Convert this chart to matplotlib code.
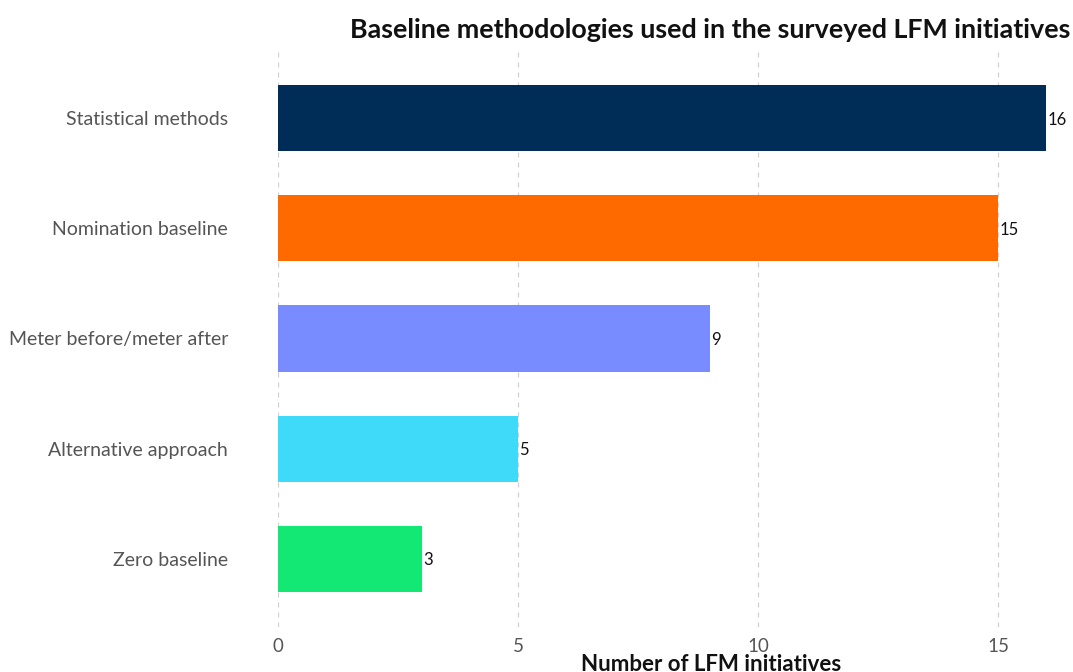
import matplotlib
matplotlib.use("Agg")
import matplotlib.pyplot as plt

# Baseline methodologies and how many LFM initiatives use each
methods = [
    "Statistical methods",
    "Nomination baseline",
    "Meter before/meter after",
    "Alternative approach",
    "Zero baseline",
]
counts = [16, 15, 9, 5, 3]
bar_colors = ["#002D57", "#FF6A00", "#788CFF", "#3FDAF9", "#14E874"]
x_ticks = [0, 5, 10, 15]

plt.rcParams["font.family"] = ["Lato", "DejaVu Sans"]

fig = plt.figure(figsize=(10.73, 6.72), dpi=100)
ax = fig.add_axes([278 / 1073, 45 / 672, 792 / 1073, 577 / 672])

ypos = list(range(len(methods)))
ax.barh(ypos, counts, height=0.6, color=bar_colors, zorder=3)

for y, v in zip(ypos, counts):
    ax.text(v + 0.03, y, f"{v}", va="center_baseline", ha="left", fontsize=12,
            color="#111111", zorder=4)

ax.set_yticks(ypos)
ax.set_yticklabels(methods, fontsize=14, color="#555555")
ax.set_ylim(len(methods) - 1 + 0.62, -0.62)

ax.set_xlim(0, 16.5)
ax.set_xticks(x_ticks)
ax.set_xticklabels([str(t) for t in x_ticks], fontsize=13.5, color="#555555")
ax.tick_params(axis="both", length=0)
ax.tick_params(axis="y", pad=36)
ax.tick_params(axis="x", pad=8)

ax.grid(axis="x", linestyle=(0, (4, 4)), color="#d0d0d0", linewidth=0.9, zorder=0)
ax.grid(axis="y", visible=False)
for s in ax.spines.values():
    s.set_visible(False)

ax.set_xlabel("Number of LFM initiatives", fontsize=16, fontweight="bold",
              color="#111111", labelpad=1)
ax.xaxis.set_label_coords((711 - 278) / 792, -0.047, transform=ax.transAxes)
ax.xaxis.label.set_va("top")

fig.text(1070 / 1073, 1 - 30 / 672, "Baseline methodologies used in the surveyed LFM initiatives",
         ha="right", va="center", fontsize=19.4, fontweight="bold", color="#111111")

fig.savefig("out.png", dpi=100)
